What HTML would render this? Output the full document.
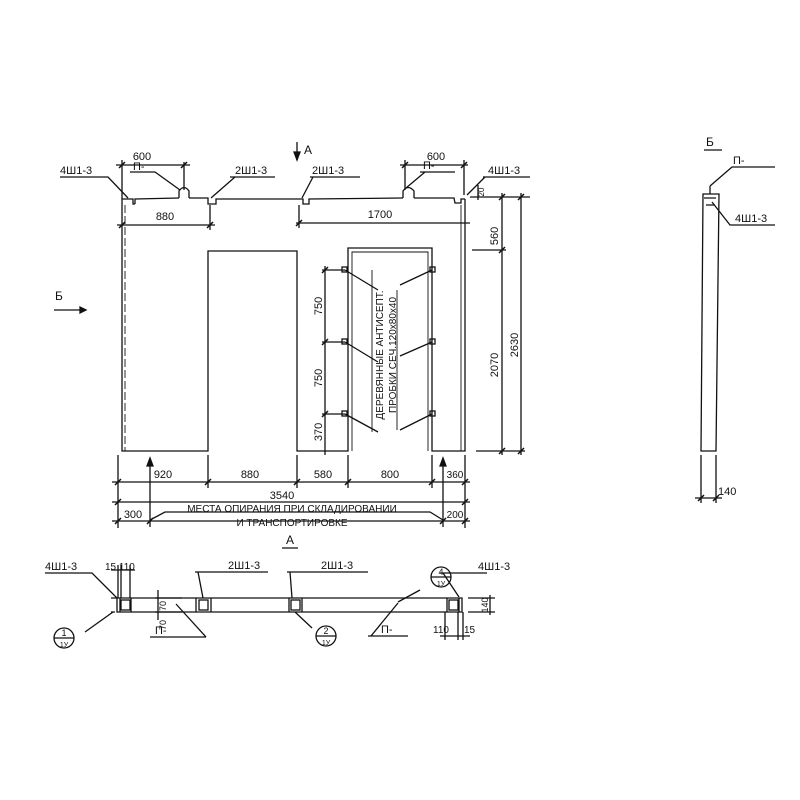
<!DOCTYPE html>
<html><head><meta charset="utf-8"><style>
html,body{margin:0;padding:0;background:#fff}
svg{display:block}
text{font-family:"Liberation Sans","DejaVu Sans",sans-serif;fill:#111}
</style></head><body>
<svg width="800" height="800" viewBox="0 0 800 800" xmlns="http://www.w3.org/2000/svg">
<g stroke="#111" stroke-width="1.3" fill="none">
<!-- panel outline -->
<path d="M122,199 L122,451 L208,451 L208,251 L297,251 L297,451 L348,451 L348,248 L432,248 L432,451 L465,451 L465,199"/>
<path d="M125,205 L125,451" stroke-dasharray="8,3" stroke-width="0.9"/>
<path d="M461,205 L461,451" stroke-width="0.9"/>
<path d="M352,451 L352,252 L428,252 L428,451" stroke-width="0.9"/>
<!-- top edge with notches -->
<path d="M122,199 L133,199 L133,204 L135,204 M135,204 L135,199 L179,198 M189,198 L208,198 L208,204 L216,204 L216,199 L303,199 L303,204 L309,204 L309,199 L403,198 M414,198 L454,198 L455,203 L461,203 L461,199 L465,199"/>
<path d="M179,198 L179,191 Q184,184 189,191 L189,198"/>
<path d="M403,198 L403,191 Q408,184 414,191 L414,198"/>
<!-- leaders top -->
<path d="M60,177 L108,177 L128,198 M130,172 L155,172 L180,190 M230,177 L275,177 M235,177 L211,198 M310,177 L360,177 M313,177 L302,198 M420,172 L455,172 M425,172 L406,188 M483,177 L530,177 M485,177 L467,195"/>
<!-- 600 dims -->
<path d="M116,165 L190,165 M122,160 L122,199 M184,162 L184,190 M400,165 L468,165 M405,160 L405,190 M464,160 L464,195"/>
<path d="M119,168 L125,162 M181,168 L187,162 M402,168 L408,162 M461,168 L467,162" stroke-width="1.5"/>
<!-- 880/1700 -->
<path d="M117,225 L215,225 M210,205 L210,230 M296,223 L470,223 M299,205 L299,228"/>
<path d="M119,228 L125,222 M207,228 L213,222 M296,226 L302,220" stroke-width="1.5"/>
<!-- right dims -->
<path d="M470,197 L530,197 M472,250 L506,250 M476,451 L525,451 M502,193 L502,455 M521,193 L521,455"/>
<path d="M499,200 L505,194 M499,253 L505,247 M499,454 L505,448 M518,200 L524,194 M518,454 L524,448" stroke-width="1.5"/>
<path d="M478,185 L478,200"/>
<!-- left vertical dims -->
<path d="M322,270 L345,270 M322,342 L345,342 M322,414 L345,414 M325,266 L325,455"/>
<path d="M322,273 L328,267 M322,345 L328,339 M322,417 L328,411" stroke-width="1.5"/>
<!-- plugs leaders -->
<path d="M345,270 L378,290 M345,342 L378,362 M345,414 L378,432 M432,270 L400,285 M432,342 L400,356 M432,414 L400,430"/>
<path d="M372,270 L372,432 M397,290 L397,430" stroke-width="0.9"/>
<rect x="342" y="267" width="5" height="5"/><rect x="342" y="339" width="5" height="5"/><rect x="342" y="411" width="5" height="5"/>
<rect x="430" y="267" width="5" height="5"/><rect x="430" y="339" width="5" height="5"/><rect x="430" y="411" width="5" height="5"/>
<!-- bottom dims -->
<path d="M118,455 L118,528 M208,455 L208,488 M297,455 L297,488 M348,455 L348,488 M432,455 L432,488 M465,455 L465,528 M150,458 L150,527 M443,458 L443,527"/>
<path d="M150,458 L147,466 L153,466 Z M443,458 L440,466 L446,466 Z" fill="#111"/>
<path d="M112,482 L470,482 M112,502 L470,502 M112,521 L470,521"/>
<path d="M115,485 L121,479 M205,485 L211,479 M294,485 L300,479 M345,485 L351,479 M429,485 L435,479 M462,485 L468,479 M115,505 L121,499 M462,505 L468,499 M115,524 L121,518 M147,524 L153,518 M440,524 L446,518 M462,524 L468,518" stroke-width="1.5"/>
<path d="M150,520 L165,512 L430,512 L443,520"/>
<!-- section marks -->
<path d="M297,142 L297,160 M54,310 L86,310 M282,548 L298,548 M704,150 L722,150"/>
<path d="M297,160 L294,152 L300,152 Z M86,310 L80,307 L80,313 Z" fill="#111"/>
<!-- side view -->
<path d="M703,194 L719,194 L716,451 L701,451 Z M704,198 L716,198 M706,205 L715,205"/>
<path d="M710,194 L710,186 M710,186 L732,167 L775,167 M712,202 L730,225 L775,225 M701,455 L701,503 M716,455 L716,503 M695,498 L722,498"/>
<path d="M698,501 L704,495 M713,501 L719,495" stroke-width="1.5"/>
<!-- bottom plan -->
<path d="M117,598 L462,598 L462,612 L117,612 Z M111,598 L117,598 M115,612 L111,612"/>
<path d="M120,598 L120,612 M131,598 L131,612 M196,598 L196,612 M211,598 L211,612 M289,598 L289,612 M302,598 L302,612 M447,598 L447,612 M459,598 L459,612"/>
<rect x="121" y="600" width="9" height="10"/><rect x="199" y="600" width="9" height="10"/><rect x="291" y="600" width="9" height="10"/><rect x="449" y="600" width="9" height="10"/>
<path d="M45,573 L92,573 L117,598 M113,612 L85,632 M195,572 L268,572 M198,572 L203,598 M287,572 L368,572 M290,572 L292,598 M295,612 L312,628 M440,573 L487,573 M443,573 L459,597 M398,602 L420,590 M368,636 L408,636 M398,603 L371,636 M176,604 L206,637 M150,637 L206,637"/>
<path d="M118,565 L118,598 M121,565 L121,598 M130,565 L130,598 M111,570 L135,570 M158,590 L158,620 M155,598 L182,598 M155,612 L182,612 M458,612 L458,640 M463,612 L463,640 M445,612 L445,640 M440,636 L470,636 M468,598 L495,598 M468,612 L495,612 M490,595 L490,615"/>
<circle cx="64" cy="638" r="10"/><path d="M54,638 L74,638"/>
<circle cx="326" cy="636" r="10"/><path d="M316,636 L336,636"/>
<circle cx="441" cy="577" r="10"/><path d="M431,577 L451,577"/>
</g>
<g font-size="11">
<text x="142" y="160" text-anchor="middle">600</text>
<text x="436" y="160" text-anchor="middle">600</text>
<text x="60" y="174">4Ш1-3</text>
<text x="133" y="170">П-</text>
<text x="235" y="174">2Ш1-3</text>
<text x="312" y="174">2Ш1-3</text>
<text x="423" y="169">П-</text>
<text x="488" y="174">4Ш1-3</text>
<text x="304" y="154" font-size="12">А</text>
<text x="165" y="220" text-anchor="middle">880</text>
<text x="380" y="218" text-anchor="middle">1700</text>
<text x="55" y="300" font-size="12">Б</text>
<text x="163" y="478" text-anchor="middle">920</text>
<text x="250" y="478" text-anchor="middle">880</text>
<text x="323" y="478" text-anchor="middle">580</text>
<text x="390" y="478" text-anchor="middle">800</text>
<text x="455" y="478" text-anchor="middle" font-size="10">360</text>
<text x="282" y="499" text-anchor="middle">3540</text>
<text x="133" y="518" text-anchor="middle">300</text>
<text x="455" y="518" text-anchor="middle" font-size="10">200</text>
<text x="292" y="512" text-anchor="middle" font-size="10">МЕСТА ОПИРАНИЯ ПРИ СКЛАДИРОВАНИИ</text>
<text x="292" y="526" text-anchor="middle" font-size="10">И ТРАНСПОРТИРОВКЕ</text>
<text x="290" y="544" text-anchor="middle" font-size="12">А</text>
<text x="706" y="146" font-size="12">Б</text>
<text x="733" y="164">П-</text>
<text x="735" y="222">4Ш1-3</text>
<text x="718" y="495">140</text>
<text x="45" y="570">4Ш1-3</text>
<text x="105" y="570" font-size="10">15 110</text>
<text x="228" y="569">2Ш1-3</text>
<text x="321" y="569">2Ш1-3</text>
<text x="478" y="570">4Ш1-3</text>
<text x="155" y="634">П-</text>
<text x="381" y="633">П-</text>
<text x="433" y="633" font-size="10">110</text>
<text x="464" y="633" font-size="10">15</text>
<text x="64" y="636" font-size="9" text-anchor="middle">1</text>
<text x="64" y="647" font-size="7" text-anchor="middle">1У</text>
<text x="326" y="634" font-size="9" text-anchor="middle">2</text>
<text x="326" y="645" font-size="7" text-anchor="middle">1У</text>
<text x="441" y="575" font-size="9" text-anchor="middle">4</text>
<text x="441" y="586" font-size="7" text-anchor="middle">1У</text>
</g>
<g font-size="11">
<text transform="translate(498,236) rotate(-90)" text-anchor="middle">560</text>
<text transform="translate(498,365) rotate(-90)" text-anchor="middle">2070</text>
<text transform="translate(518,345) rotate(-90)" text-anchor="middle">2630</text>
<text transform="translate(484,192) rotate(-90)" text-anchor="middle" font-size="8">20</text>
<text transform="translate(322,306) rotate(-90)" text-anchor="middle">750</text>
<text transform="translate(322,378) rotate(-90)" text-anchor="middle">750</text>
<text transform="translate(322,432) rotate(-90)" text-anchor="middle">370</text>
<text transform="translate(383,355) rotate(-90)" text-anchor="middle" font-size="10">ДЕРЕВЯННЫЕ АНТИСЕПТ.</text>
<text transform="translate(396,355) rotate(-90)" text-anchor="middle" font-size="10">ПРОБКИ СЕЧ.120х80х40</text>
<text transform="translate(166,606) rotate(-90)" text-anchor="middle" font-size="9">70</text>
<text transform="translate(166,625) rotate(-90)" text-anchor="middle" font-size="9">70</text>
<text transform="translate(488,605) rotate(-90)" text-anchor="middle" font-size="9">140</text>
</g>
</svg>
</body></html>
